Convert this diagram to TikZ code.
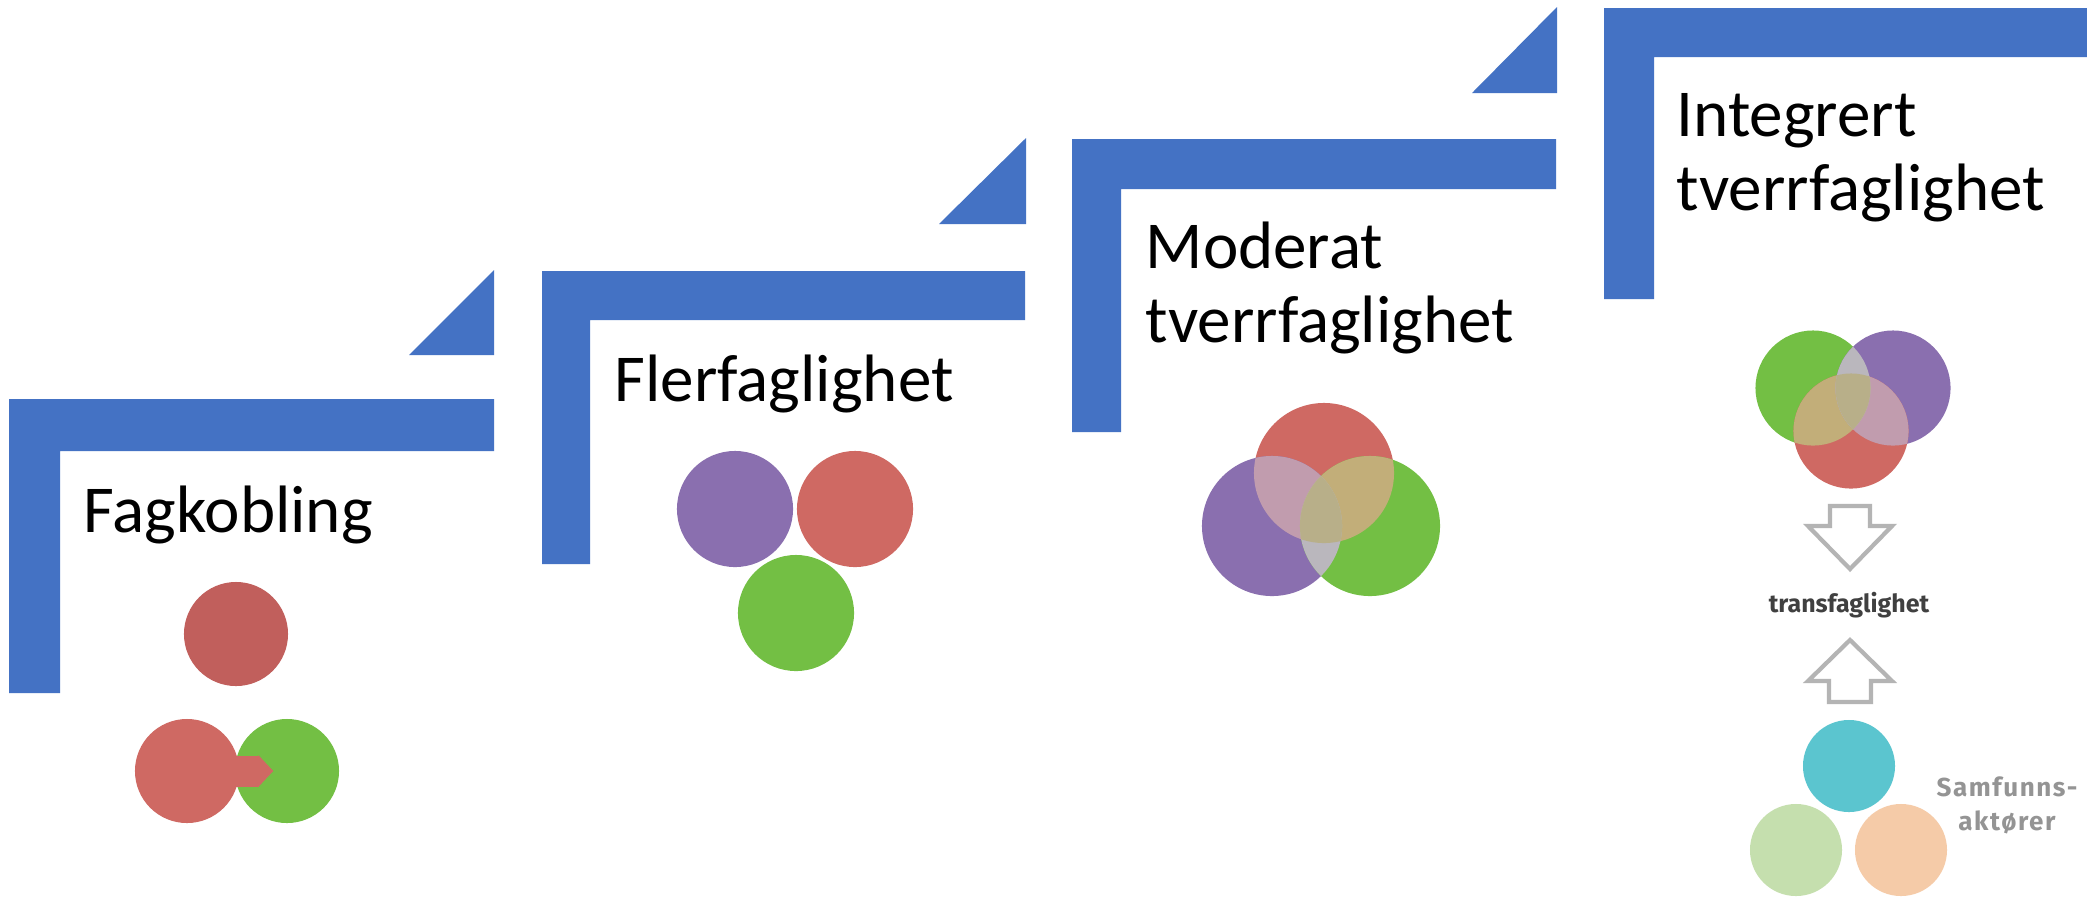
\documentclass[tikz,border=0pt]{standalone}
\usepackage{fontspec}
\setmainfont{Carlito}
\newfontfamily\transfont{Fira Sans}
\newfontfamily\aktfont[LetterSpace=6]{Fira Sans}
\usetikzlibrary{arrows.meta}
\definecolor{stepblue}{HTML}{4472C4}
\definecolor{darkred}{HTML}{C15F5C}
\definecolor{redc}{HTML}{CF6963}
\definecolor{greenc}{HTML}{73BF44}
\definecolor{purplec}{HTML}{8A6FAF}
\definecolor{pinkov}{HTML}{C19CAE}
\definecolor{khakiov}{HTML}{C2AE79}
\definecolor{grayov}{HTML}{BAB7BD}
\definecolor{tripleov}{HTML}{B8AF89}
\definecolor{cyanc}{HTML}{5BC5CF}
\definecolor{palegreen}{HTML}{C5DFAE}
\definecolor{peach}{HTML}{F5CBA8}
\definecolor{arrowgray}{HTML}{B4B4B4}
\newcommand\headfont{\fontsize{19.07pt}{20.8pt}\selectfont}

\begin{document}
\begin{tikzpicture}[x=0.01cm,y=-0.01cm]
\tikzstyle{every node}+=[inner sep=0pt]
\tikzstyle{head}=[anchor=base west, align=left, font=\headfont]
\tikzstyle{disc}=[circle, minimum size=1.04cm]
\tikzstyle{venn}=[circle, minimum size=1.40cm]
\tikzstyle{venni}=[circle, minimum size=1.15cm]
\tikzstyle{actor}=[circle, minimum size=0.92cm]
\useasboundingbox [fill=white] (0,0) rectangle (2087,896);
\fill [stepblue] (9,399) -- (494,399) -- (494,451) -- (60,451) -- (60,693) -- (9,693) -- cycle;
\fill [stepblue] (494,270) -- (494,355) -- (409,355) -- cycle;
\fill [stepblue] (542,271) -- (1025,271) -- (1025,320) -- (590,320) -- (590,564) -- (542,564) -- cycle;
\fill [stepblue] (1026,138) -- (1026,224) -- (939,224) -- cycle;
\fill [stepblue] (1072,139) -- (1556,139) -- (1556,189) -- (1121,189) -- (1121,432) -- (1072,432) -- cycle;
\fill [stepblue] (1557,7) -- (1557,93) -- (1472,93) -- cycle;
\fill [stepblue] (1604,8) -- (2087,8) -- (2087,57) -- (1654,57) -- (1654,299) -- (1604,299) -- cycle;
\node [head] (fagkobling) at (83,532) {Fagkobling};
\node [head] (flerfag) at (614,401) {Flerfaglighet};
\node [head] (moderat) at (1145,342) {Moderat\\tverrfaglighet};
\node [head] (integrert) at (1676,210) {Integrert\\tverrfaglighet};
\node [disc, fill=darkred] (fk-top) at (236,634) {};
\node [disc, fill=redc] (fk-red) at (187,771) {};
\node [disc, fill=greenc] (fk-green) at (287,771) {};
\draw [redc, line width=0.31cm, -{Triangle[length=0.15cm, width=0.31cm]}] ([xshift=-0.06cm]fk-red.east) -- ([xshift=0.39cm]fk-green.west);
\node [disc, fill=purplec, minimum size=1.16cm] (fl-purple) at (735,509) {};
\node [disc, fill=redc, minimum size=1.16cm] (fl-red) at (855,509) {};
\node [disc, fill=greenc, minimum size=1.16cm] (fl-green) at (796,613) {};
\node [venn, fill=redc] (mo-red) at (1324,473) {};
\node [venn, fill=purplec] (mo-purple) at (1272,526) {};
\node [venn, fill=greenc] (mo-green) at (1370,526) {};
\begin{scope}
\clip (mo-red.center) circle [radius=0.7cm];
\fill [pinkov] (mo-purple.center) circle [radius=0.7cm];
\fill [khakiov] (mo-green.center) circle [radius=0.7cm];
\end{scope}
\begin{scope}
\clip (mo-purple.center) circle [radius=0.7cm];
\fill [grayov] (mo-green.center) circle [radius=0.7cm];
\clip (mo-green.center) circle [radius=0.7cm];
\fill [tripleov] (mo-red.center) circle [radius=0.7cm];
\end{scope}
\node [venni, fill=greenc] (in-green) at (1813,388) {};
\node [venni, fill=purplec] (in-purple) at (1893,388) {};
\node [venni, fill=redc] (in-red) at (1851,431) {};
\begin{scope}
\clip (in-red.center) circle [radius=0.575cm];
\fill [khakiov] (in-green.center) circle [radius=0.575cm];
\fill [pinkov] (in-purple.center) circle [radius=0.575cm];
\end{scope}
\begin{scope}
\clip (in-green.center) circle [radius=0.575cm];
\fill [grayov] (in-purple.center) circle [radius=0.575cm];
\clip (in-purple.center) circle [radius=0.575cm];
\fill [tripleov] (in-red.center) circle [radius=0.575cm];
\end{scope}
\draw [arrowgray, line width=1.2pt, line join=miter] (1830,506) -- (1870,506) -- (1870,526) -- (1892,526) -- (1850,569) -- (1808,526) -- (1830,526) -- cycle;
\node [font=\transfont\fontsize{7.1pt}{8pt}\selectfont\bfseries, text=black!75] (trans) at (1849,605) {transfaglighet};
\draw [arrowgray, line width=1.2pt, line join=miter] (1850,640) -- (1892,681) -- (1871,681) -- (1871,702) -- (1829,702) -- (1829,681) -- (1808,681) -- cycle;
\node [actor, fill=cyanc] (ac-cyan) at (1849,766) {};
\node [actor, fill=palegreen] (ac-green) at (1796,850) {};
\node [actor, fill=peach] (ac-peach) at (1901,850) {};
\node [font=\aktfont\fontsize{7.4pt}{9.4pt}\selectfont\bfseries, text=black!42, align=center, anchor=base] (samfunn) at (2007,830) {Samfunns-\\akt\o rer};
\end{tikzpicture}
\end{document}
